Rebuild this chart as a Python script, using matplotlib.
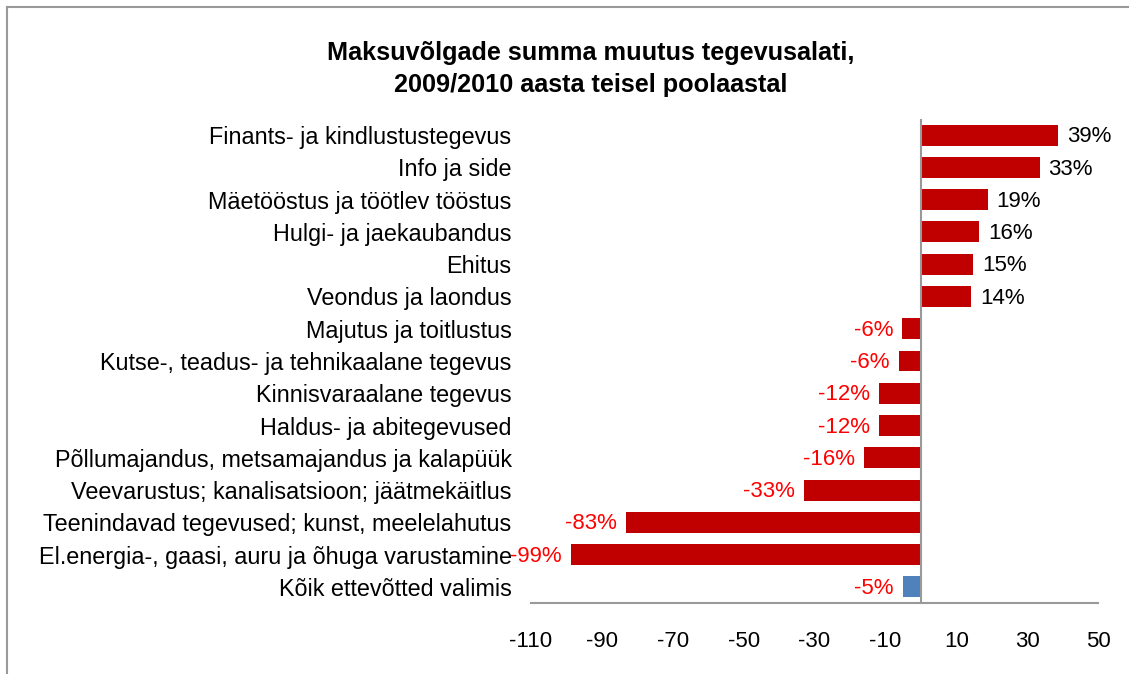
import matplotlib
matplotlib.use("Agg")
import matplotlib.pyplot as plt
from matplotlib.lines import Line2D

plt.rcParams['font.family'] = ['Liberation Sans', 'DejaVu Sans']

title = "Maksuvõlgade summa muutus tegevusalati,\n2009/2010 aasta teisel poolaastal"
categories = [
    "Finants- ja kindlustustegevus",
    "Info ja side",
    "Mäetööstus ja töötlev tööstus",
    "Hulgi- ja jaekaubandus",
    "Ehitus",
    "Veondus ja laondus",
    "Majutus ja toitlustus",
    "Kutse-, teadus- ja tehnikaalane tegevus",
    "Kinnisvaraalane tegevus",
    "Haldus- ja abitegevused",
    "Põllumajandus, metsamajandus ja kalapüük",
    "Veevarustus; kanalisatsioon; jäätmekäitlus",
    "Teenindavad tegevused; kunst, meelelahutus",
    "El.energia-, gaasi, auru ja õhuga varustamine",
    "Kõik ettevõtted valimis",
]
values = [38.7, 33.5, 18.9, 16.4, 14.8, 14.3, -5.3, -6.2, -11.7, -11.9, -16.1, -33.0, -83.2, -98.8, -5.1]
labels = ["39%", "33%", "19%", "16%", "15%", "14%", "-6%", "-6%", "-12%", "-12%",
          "-16%", "-33%", "-83%", "-99%", "-5%"]
xticks = [-110, -90, -70, -50, -30, -10, 10, 30, 50]

fig = plt.figure(figsize=(11.29, 6.74), dpi=100)
ax = fig.add_axes([531/1129, 1-603/674, 567/1129, 484/674])

n = len(categories)
ypos = list(range(n))
colors = ["#C00000"] * (n - 1) + ["#4F81BD"]
ax.barh(ypos, values, height=0.65, color=colors, zorder=2)
ax.set_ylim(n - 0.5, -0.5)
ax.set_xlim(-110, 50)
ax.set_xticks(xticks)
ax.set_xticklabels([str(t) for t in xticks], fontsize=16)
ax.set_yticks(ypos)
ax.set_yticklabels(categories, fontsize=16.8)
ax.tick_params(axis='x', length=0, pad=20)
ax.tick_params(axis='y', length=0, pad=14)
for s in ['top', 'right', 'left']:
    ax.spines[s].set_visible(False)
ax.spines['bottom'].set_color('#999999')
ax.spines['bottom'].set_linewidth(1.5)
ax.axvline(0, color='#999999', lw=1.5, zorder=3)

for y, v, lab in zip(ypos, values, labels):
    if v >= 0:
        ax.text(v + 2.5, y + 0.05, lab, va='center', ha='left', fontsize=16, color='black')
    else:
        ax.text(v - 2.5, y + 0.05, lab, va='center', ha='right', fontsize=16, color='#FF0000')

fig.text(591/1129, 1-69/674, title, ha='center', va='center', fontsize=18.2,
         fontweight='bold', linespacing=1.4)

# outer frame (left and top visible)
fig.add_artist(Line2D([7/1129, 7/1129], [0, 1-7/674], color='#999999', lw=1.5))
fig.add_artist(Line2D([7/1129, 1], [1-7/674, 1-7/674], color='#999999', lw=1.5))

fig.savefig("out.png", dpi=100)
